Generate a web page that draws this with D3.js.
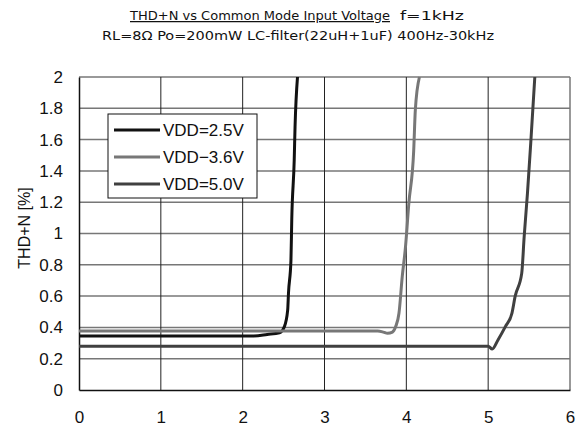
<!DOCTYPE html>
<html>
  <head>
    <meta charset="utf-8">
    <title>THD+N vs Common Mode Input Voltage</title>
    <script src="https://d3js.org/d3.v7.min.js"></script>
    <style type="text/css">
    body { margin: 0; background: #fff; }
    text { font-family: "Liberation Sans", Arial, sans-serif; fill: #111; }
    .title { font-family: "DejaVu Sans", sans-serif; font-size: 12.5px; }
    </style>
  </head>
  <body>
    <div id="chart"></div>
    <script>
      // 読み取った値（x: 入力電圧 V, y: THD+N %）
      var vdd25X = [0, 1, 2, 2.12, 2.3, 2.45, 2.51, 2.55, 2.56, 2.59, 2.6, 2.63, 2.64, 2.67];
      var vdd25Y = [0.345, 0.345, 0.345, 0.345, 0.355, 0.366, 0.405, 0.51, 0.62, 0.83, 1.09, 1.47, 1.68, 2.0];
      var vdd36X = [0, 1, 2, 3, 3.65, 3.72, 3.77, 3.83, 3.87, 3.91, 3.95, 3.99, 4.03, 4.09, 4.11, 4.16];
      var vdd36Y = [0.377, 0.377, 0.377, 0.377, 0.377, 0.37, 0.362, 0.37, 0.405, 0.49, 0.724, 0.916, 1.19, 1.53, 1.79, 2.0];
      var vdd50X = [0, 1, 2, 3, 4, 5, 5.05, 5.12, 5.21, 5.29, 5.33, 5.41, 5.44, 5.48, 5.52, 5.57];
      var vdd50Y = [0.28, 0.28, 0.28, 0.28, 0.28, 0.28, 0.262, 0.32, 0.405, 0.49, 0.6, 0.745, 0.98, 1.257, 1.576, 2.0];
      var seriesNames = ["VDD=2.5V", "VDD\u22123.6V", "VDD=5.0V"];
      var xTicks = [0, 1, 2, 3, 4, 5, 6];
      var yTicks = [0, 0.2, 0.4, 0.6, 0.8, 1, 1.2, 1.4, 1.6, 1.8, 2];

      var width = 576, height = 432;
      var pLeft = 79, pRight = 570, pTop = 77, pBottom = 390;

      var svg = d3.select('#chart').append('svg')
          .attr('width', width)
          .attr('height', height);

      var x = d3.scaleLinear().domain([0, 6]).range([pLeft, pRight]);
      var y = d3.scaleLinear().domain([0, 2]).range([pBottom, pTop]);

      // グリッド
      svg.append('g').selectAll('line')
          .data(yTicks.filter(function(d){ return d > 0; }))
          .enter().append('line')
          .attr('x1', pLeft).attr('x2', pRight)
          .attr('y1', function(d){ return y(d); })
          .attr('y2', function(d){ return y(d); })
          .style('stroke', '#777').style('stroke-width', 1.5);

      svg.append('g').selectAll('line')
          .data(xTicks.filter(function(d){ return d > 0 && d < 6; }))
          .enter().append('line')
          .attr('x1', function(d){ return x(d); })
          .attr('x2', function(d){ return x(d); })
          .attr('y1', pTop).attr('y2', pBottom)
          .style('stroke', '#222').style('stroke-width', 1);

      svg.append('line')
          .attr('x1', pRight).attr('x2', pRight).attr('y1', pTop).attr('y2', pBottom)
          .style('stroke', '#777').style('stroke-width', 1.5);

      // 軸
      var xAxis = svg.append('g')
          .attr('transform', 'translate(0,' + pBottom + ')')
          .call(d3.axisBottom(x).tickValues(xTicks).tickSize(0).tickPadding(21).tickFormat(d3.format('d')));
      xAxis.select('.domain').style('stroke', '#111').style('stroke-width', 1.5);
      xAxis.selectAll('text').style('font-size', '17px');

      var yAxis = svg.append('g')
          .attr('transform', 'translate(' + pLeft + ',0)')
          .call(d3.axisLeft(y).tickValues(yTicks).tickSize(0).tickPadding(16).tickFormat(function(d){ return String(d); }));
      yAxis.select('.domain').style('stroke', '#111').style('stroke-width', 1.5);
      yAxis.selectAll('text').style('font-size', '17px');

      // 曲線
      var series = [
        { name: seriesNames[0], xs: vdd25X, ys: vdd25Y, color: '#111' },
        { name: seriesNames[1], xs: vdd36X, ys: vdd36Y, color: '#777' },
        { name: seriesNames[2], xs: vdd50X, ys: vdd50Y, color: '#404040' }
      ];

      var line = d3.line()
          .x(function(d){ return x(d[0]); })
          .y(function(d){ return y(d[1]); })
          .curve(d3.curveMonotoneX);

      series.forEach(function(s){
        var pts = s.xs.map(function(v, i){ return [v, s.ys[i]]; });
        svg.append('path')
            .attr('d', line(pts))
            .style('fill', 'none')
            .style('stroke', s.color)
            .style('stroke-width', 3)
            .style('stroke-linejoin', 'round');
      });

      // 凡例
      var legend = svg.append('g');
      legend.append('rect')
          .attr('x', 108).attr('y', 114).attr('width', 149).attr('height', 84)
          .style('fill', '#fff').style('stroke', '#111').style('stroke-width', 1);
      series.forEach(function(s, i){
        var ly = 130 + i * 27;
        legend.append('line')
            .attr('x1', 114).attr('x2', 160).attr('y1', ly).attr('y2', ly)
            .style('stroke', s.color).style('stroke-width', 3);
        legend.append('text')
            .attr('x', 163).attr('y', ly).attr('dy', '0.36em')
            .style('font-size', '17px')
            .text(s.name);
      });

      // タイトル
      svg.append('text')
          .attr('class', 'title')
          .attr('x', 130).attr('y', 20)
          .attr('textLength', 260).attr('lengthAdjust', 'spacingAndGlyphs')
          .attr('text-decoration', 'underline')
          .text('THD+N vs Common Mode Input Voltage');
      svg.append('text')
          .attr('class', 'title')
          .attr('x', 400).attr('y', 20)
          .attr('textLength', 64).attr('lengthAdjust', 'spacingAndGlyphs')
          .text('f=1kHz');
      svg.append('text')
          .attr('class', 'title')
          .attr('x', 102).attr('y', 39.5)
          .attr('textLength', 392).attr('lengthAdjust', 'spacingAndGlyphs')
          .text('RL=8\u03A9  Po=200mW LC-filter(22uH+1uF) 400Hz-30kHz');

      // 縦軸ラベル
      svg.append('text')
          .attr('transform', 'translate(30,' + 228 + ') rotate(-90)')
          .attr('text-anchor', 'middle')
          .style('font-size', '16px')
          .text('THD+N [%]');
    </script>
  </body>
</html>
